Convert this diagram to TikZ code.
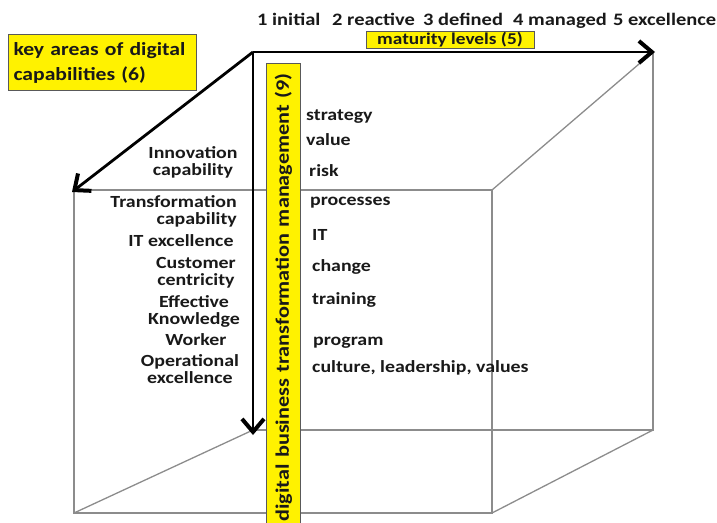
\documentclass[tikz,border=0pt]{standalone}
\usepackage{fontspec}
\setmainfont{Carlito}[FakeStretch=1.17]
\usetikzlibrary{arrows.meta}

\begin{document}
\begin{tikzpicture}[
    x=1pt, y=-1pt,
    >={Straight Barb[length=13pt,width=22pt,line width=4pt]},
    every node/.style={font=\fontsize{17}{17}\selectfont\bfseries, text=black!90, inner sep=0pt},
    edge/.style={draw=black!45, line width=1.3pt},
    axis/.style={->, line width=2.8pt, black},
    label/.style={fill=yellow, draw=black!65, line width=1pt},
    item/.style={align=center, anchor=base}
]
\useasboundingbox (0,0) rectangle (717,522);

% Cube corners (back face, front face)
\coordinate (o)   at (253,52);
\coordinate (bTR) at (655,52);
\coordinate (bBR) at (653,430);
\coordinate (bBL) at (253,435);
\coordinate (fTL) at (72,192);
\coordinate (fTR) at (492,190);
\coordinate (fBR) at (492,513);
\coordinate (fBL) at (74,513);

% Cube edges
\draw[edge] (74,190) -- (fTR) -- (fBR) -- (fBL) -- (74,190);
\draw[edge] (653,52) -- (bBR) -- (253,430);
\draw[edge] (fTR) -- (653,52);
\draw[edge] (fBR) -- (bBR);
\draw[edge] (fBL) -- (253,430);

% Vertical label box
\node[label, rotate=90, anchor=north east, minimum width=470, minimum height=34,
      text width=450, align=right, font=\fontsize{19}{19}\selectfont\bfseries]
      (dbt) at (266,63) {digital business transformation management (9)};

% Axes
\draw[axis] (o) -- (bTR);
\draw[axis] (o) -- (bBL);
\draw[axis] (o) -- (fTL);

% Axis labels
\node[label, anchor=north west, minimum width=188, minimum height=56, text width=178,
      align=left, font=\fontsize{18.5}{25}\selectfont\bfseries]
      (keyareas) at (8,34) {key areas of digital\\capabilities (6)};
\node[label, minimum width=168, minimum height=17, font=\fontsize{16.5}{17}\selectfont\bfseries]
      (maturity) at (450,39.5) {maturity levels (5)};

% Maturity levels
\foreach \x/\txt [count=\i] in {257/1 initial, 332/2 reactive, 423/3 defined, 513/4 managed, 613/5 excellence}
    \node[anchor=base west, font=\fontsize{17.5}{17.5}\selectfont\bfseries] (level\i) at (\x,25) {\txt};

% Key areas of digital capabilities (base = last line)
\node[item] (innov) at (193,175) {Innovation\\capability};
\node[item, align=right, anchor=base east] (transf) at (237,224) {Transformation\\capability};
\node[item] (itexc) at (181,246) {IT excellence};
\node[item] (custom) at (196,285) {Customer\\centricity};
\node[item] (effect) at (194,324) {Effective\\Knowledge};
\node[item] (worker) at (196,345) {Worker};
\node[item] (operat) at (190,383) {Operational\\excellence};

% Transformation management areas
\foreach \x/\y/\txt [count=\i] in {306/120/strategy, 306/145/value, 309/176/risk, 310/205/processes,
    312/240/IT, 312/271/change, 312/304/training, 313/345/program, 312/372/{culture, leadership, values}}
    \node[anchor=base west] (mgmt\i) at (\x,\y) {\txt};

\end{tikzpicture}
\end{document}
